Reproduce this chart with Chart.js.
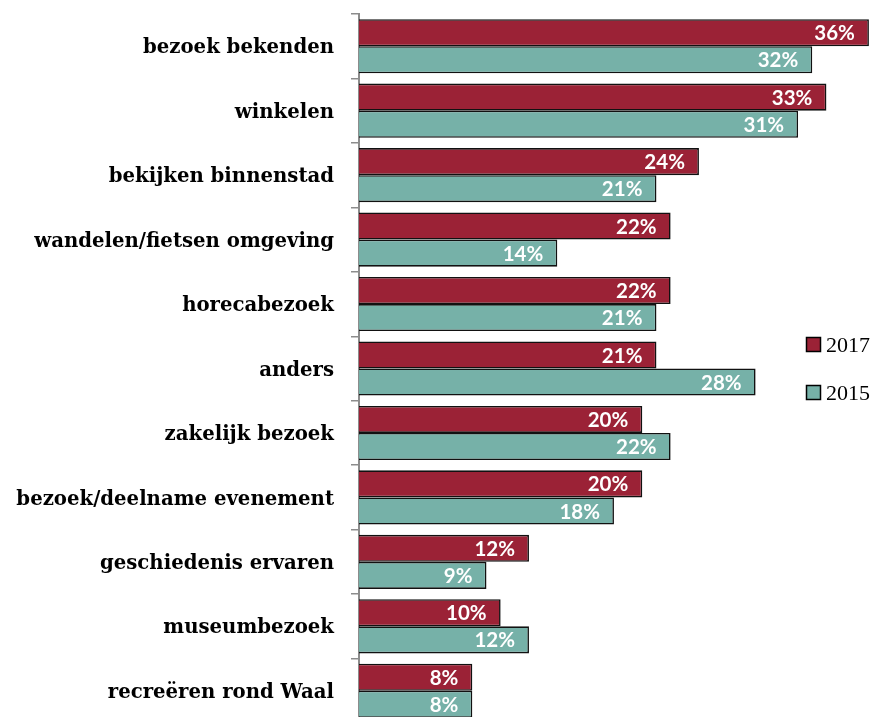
<!DOCTYPE html>
<html>
<head>
<meta charset="utf-8">
<script src="https://cdn.jsdelivr.net/npm/chart.js@4.4.1/dist/chart.umd.min.js"></script>
<style>
  html, body { margin: 0; padding: 0; background: #fff; overflow: hidden; }
  #wrap { position: absolute; left: 0; top: 0; width: 876px; height: 723px; }
</style>
</head>
<body>
<div id="wrap"><canvas id="c" width="876" height="723"></canvas></div>
<script>
// Motives for visiting, share of visitors (%)
const categories = [
  'bezoek bekenden',
  'winkelen',
  'bekijken binnenstad',
  'wandelen/fietsen omgeving',
  'horecabezoek',
  'anders',
  'zakelijk bezoek',
  'bezoek/deelname evenement',
  'geschiedenis ervaren',
  'museumbezoek',
  'recreëren rond Waal'
];
const values2017 = [36, 33, 24, 22, 22, 21, 20, 20, 12, 10, 8];
const values2015 = [32, 31, 21, 14, 21, 28, 22, 18, 9, 12, 8];
const seriesNames = ['2017', '2015'];

const RED = '#9b2236';
const TEAL = '#76b1a8';

// White value labels drawn inside the end of each bar
const barValueLabels = {
  id: 'barValueLabels',
  afterDatasetsDraw(chart) {
    const ctx = chart.ctx;
    ctx.save();
    ctx.font = 'bold 20.5px Lato';
    ctx.fillStyle = '#ffffff';
    ctx.textAlign = 'right';
    ctx.textBaseline = 'middle';
    chart.data.datasets.forEach((ds, di) => {
      chart.getDatasetMeta(di).data.forEach((bar, i) => {
        ctx.fillText(ds.data[i] + '%', bar.x - 14, bar.y + 1);
      });
    });
    ctx.restore();
  }
};

// Legend placed over the right side of the plot
const sideLegend = {
  id: 'sideLegend',
  afterDraw(chart) {
    const ctx = chart.ctx;
    ctx.save();
    ctx.font = '22px "Liberation Serif"';
    ctx.textBaseline = 'middle';
    ctx.textAlign = 'left';
    chart.data.datasets.forEach((ds, di) => {
      const y = 345 + di * 48;
      ctx.fillStyle = ds.backgroundColor;
      ctx.fillRect(806.5, y - 7.5, 14, 14);
      ctx.strokeStyle = '#000';
      ctx.lineWidth = 1.5;
      ctx.strokeRect(806.5, y - 7.5, 14, 14);
      ctx.fillStyle = '#000';
      ctx.fillText(ds.label, 826, y + 1);
    });
    ctx.restore();
  }
};

new Chart(document.getElementById('c'), {
  type: 'bar',
  data: {
    labels: categories,
    datasets: [
      { label: seriesNames[0], data: values2017, backgroundColor: RED, borderColor: '#111', borderWidth: 1.6 },
      { label: seriesNames[1], data: values2015, backgroundColor: TEAL, borderColor: '#111', borderWidth: 1.6 }
    ]
  },
  options: {
    indexAxis: 'y',
    responsive: false,
    animation: false,
    layout: { padding: { top: 14, right: 0, bottom: 0, left: 0 } },
    datasets: { bar: { categoryPercentage: 0.84, barPercentage: 1.0 } },
    plugins: {
      legend: { display: false },
      tooltip: { enabled: false }
    },
    scales: {
      x: { display: false, min: 0, max: 36.5 },
      y: {
        afterFit(scale) {
          scale.width = 359;
          scale.paddingTop = 0;
          scale.paddingBottom = 0;
        },
        border: { display: true, color: '#8c8c8c', width: 2 },
        grid: { drawOnChartArea: false, drawTicks: true, tickLength: 8, color: '#8c8c8c', lineWidth: 1.5 },
        ticks: {
          padding: 17,
          labelOffset: 2,
          color: '#000',
          font: { family: 'DejaVu Serif', weight: 'bold', size: 19.7 }
        }
      }
    }
  },
  plugins: [barValueLabels, sideLegend]
});
</script>
</body>
</html>
